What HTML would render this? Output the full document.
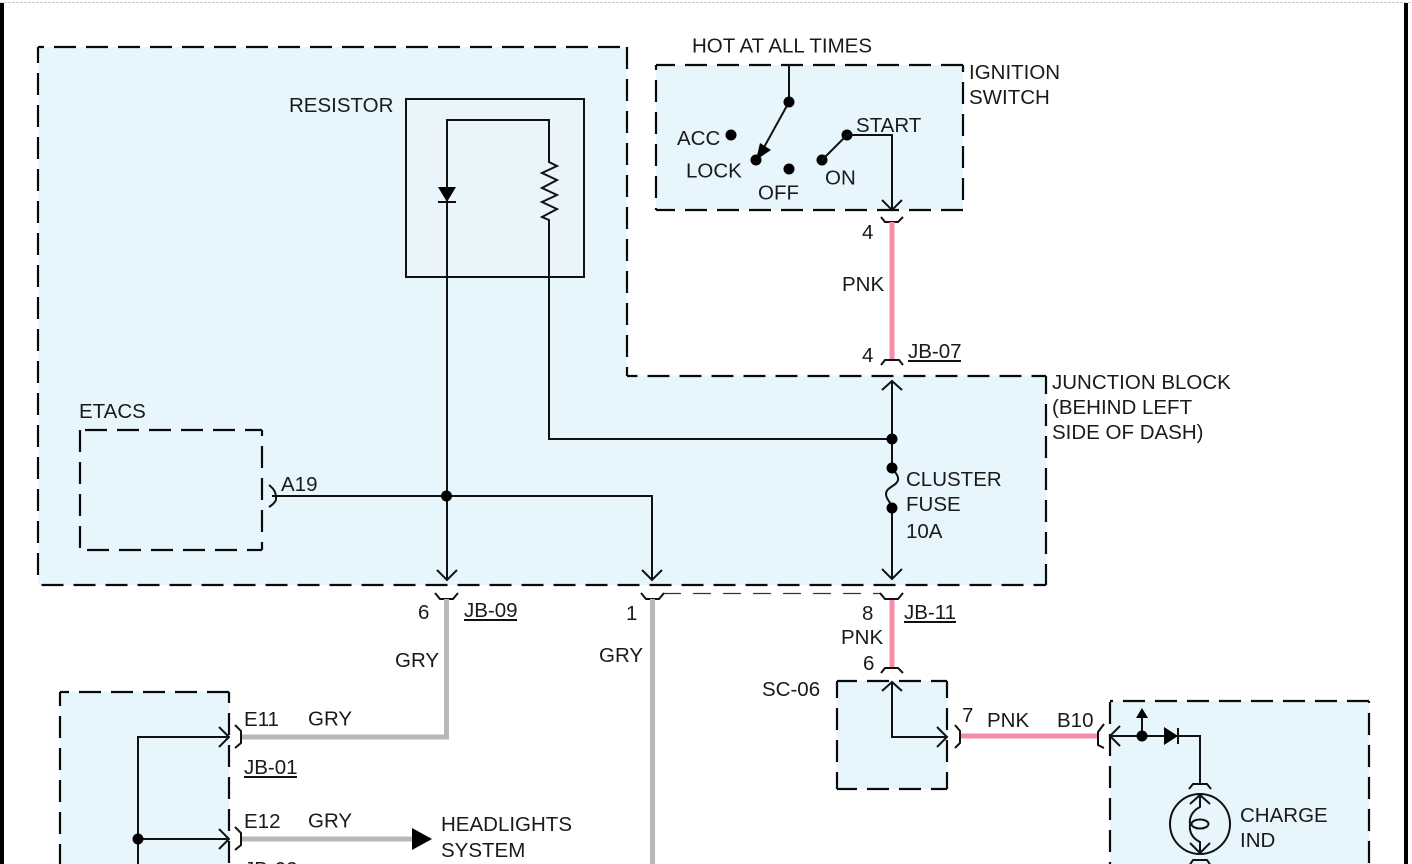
<!DOCTYPE html>
<html><head><meta charset="utf-8"><style>
html,body{margin:0;padding:0;background:#fff;width:1412px;height:864px;overflow:hidden}
svg{display:block}
text{font-family:"Liberation Sans",sans-serif;font-size:20.500px;fill:#1a1a1a}
.f{fill:#e7f6fc}
.e{fill:none;stroke:#0a0a0a;stroke-width:2.200;stroke-dasharray:22 10}
.w{fill:none;stroke:#111;stroke-width:2}
.g{fill:none;stroke:#b8b8b8;stroke-width:5}
.p{fill:none;stroke:#f68ca6;stroke-width:5}
.u{stroke:#111;stroke-width:2}
</style></head><body>
<svg width="1412" height="864" viewBox="0 0 1412 864" xmlns="http://www.w3.org/2000/svg">
<rect width="1412" height="864" fill="#fff"/>
<line x1="0" y1="2.500" x2="1412" y2="2.500" stroke="#ccc" stroke-width="1" stroke-dasharray="3 1"/>
<rect x="0" y="3" width="4" height="861" fill="#000"/>
<rect x="1404" y="3" width="4" height="861" fill="#000"/>

<!-- fills -->
<path class="f" d="M38 47H627V376H1046V585H38Z"/>
<rect class="f" x="656" y="65" width="307" height="145"/>
<rect class="f" x="837" y="681" width="110" height="108"/>
<rect class="f" x="1110" y="701" width="259" height="163"/>
<rect class="f" x="60" y="692" width="169" height="172"/>

<!-- dashed outlines -->
<path class="e" stroke-dashoffset="16" d="M38 47H627"/>
<path class="e" stroke-dashoffset="6" d="M38 47V585"/>
<path class="e" stroke-dashoffset="0" d="M627 47V376"/>
<path class="e" stroke-dashoffset="11.500" d="M627 376H1046"/>
<path class="e" stroke-dashoffset="4" d="M1046 376V585"/>
<path class="e" stroke-dashoffset="28.500" d="M38 585H1046"/>

<path class="e" stroke-dashoffset="27" d="M80 430H262"/>
<path class="e" stroke-dashoffset="25" d="M80 550H262"/>
<path class="e" stroke-dashoffset="0" d="M80 430V550"/>
<path class="e" stroke-dashoffset="16" d="M262 430V550"/>

<rect x="406" y="99" width="178" height="178" fill="#e9f5fb" stroke="#111" stroke-width="2"/>

<path class="e" stroke-dashoffset="3" d="M656 65H963"/>
<path class="e" stroke-dashoffset="3" d="M656 210H963"/>
<path class="e" stroke-dashoffset="17" d="M656 65V210"/>
<path class="e" stroke-dashoffset="15" d="M963 65V210"/>

<path class="e" stroke-dashoffset="2" d="M837 681H947"/>
<path class="e" stroke-dashoffset="2" d="M837 789H947"/>
<path class="e" stroke-dashoffset="5" d="M837 681V789"/>
<path class="e" stroke-dashoffset="5" d="M947 681V789"/>

<path class="e" stroke-dashoffset="19" d="M1110 701H1369"/>
<path class="e" stroke-dashoffset="31" d="M1110 701V864"/>
<path class="e" stroke-dashoffset="20" d="M1369 701V864"/>

<path class="e" stroke-dashoffset="13" d="M60 692H229"/>
<path class="e" stroke-dashoffset="8" d="M60 692V864"/>
<path class="e" stroke-dashoffset="11" d="M229 692V864"/>

<line x1="663" y1="593.500" x2="880" y2="593.500" stroke="#333" stroke-width="1.200" stroke-dasharray="18 12"/>

<!-- resistor block wires -->
<path class="w" d="M447 580V120H549V162L557 166L542 173L557 180L542 188L557 195L542 202L557 209L542 217L549 220V439H892"/>
<path d="M438 187H456L447 202Z" fill="#000"/>
<path class="u" d="M438 202H456"/>
<path class="w" d="M272 496H652V580"/>
<circle cx="446.500" cy="496" r="5.500"/>
<path class="w" d="M437 570L447 580L457 570M642 570L652 580L662 570"/>
<path class="w" d="M269 485Q273 488 275 492L276 496V500Q274 504 269 507"/>

<!-- ignition switch -->
<path class="w" d="M789 65V102L757 160"/>
<path d="M756 160L760 143L771 150Z" fill="#000"/>
<circle cx="789" cy="102" r="5.500"/><circle cx="731" cy="135" r="5.500"/><circle cx="756" cy="160" r="5.500"/>
<circle cx="789" cy="169" r="5.500"/><circle cx="822" cy="160" r="5.500"/><circle cx="847" cy="135" r="5.500"/>
<path class="w" d="M822 160L847 135H892V209M882 200L892 210L902 200"/>
<path class="w" d="M881 217L885 222H898L903 217"/>

<!-- pink wires -->
<path class="p" d="M892 222V360"/>
<path class="p" d="M892 599V668"/>
<path class="p" d="M961 736H1098"/>

<!-- junction block right column -->
<path class="w" d="M881 365L885 360H899L903 365"/>
<path class="w" d="M882 390L892 381L902 390"/>
<path class="w" d="M892 382V468C892 470 899 474 898 480C897 486 886 487 886 494C886 500 892 503 892 508V578"/>
<path class="w" d="M882 569L892 579L902 569"/>
<circle cx="892" cy="439" r="5.500"/><circle cx="892" cy="468" r="5.500"/><circle cx="892" cy="508" r="5.500"/>
<path class="w" d="M880 593L885 599H898L903 593"/>

<!-- grey connectors -->
<path class="w" d="M435 593L440 599H453L458 593"/>
<path class="w" d="M641 593L646 599H659L664 593"/>
<path class="g" d="M446.500 599V737H241"/>
<path class="g" d="M652.500 599V864"/>
<path class="g" d="M241 839H412"/>
<path d="M412 828L432 839L412 850Z" fill="#000"/>

<!-- SC-06 -->
<path class="w" d="M881 673L885 668H898L903 673"/>
<path class="w" d="M892 682V737H947M882 691L892 682L902 691M937 727L947 737L937 747"/>
<path class="w" d="M955 725L960 731V743L955 748"/>

<!-- charge block -->
<path class="w" d="M1104 724L1098 732V745L1104 748"/>
<path class="w" d="M1120 726L1110 736L1120 746M1110 736H1200V783M1142 736V715"/>
<circle cx="1142" cy="736" r="5.500"/>
<path d="M1142 708L1148 718H1136Z" fill="#000"/>
<path d="M1164 727L1178 736L1164 745Z" fill="#000"/>
<path class="u" d="M1178 728V744"/>
<path class="w" d="M1189 789L1193 784H1207L1211 789"/>
<circle cx="1200" cy="824" r="30" fill="none" stroke="#111" stroke-width="2"/>
<path class="w" d="M1190 804L1200 795L1210 804M1190 843L1200 853L1210 843"/>
<path class="w" d="M1200 795V807C1192 811 1189 818 1190 824C1189 832 1192 838 1200 842V853"/>
<ellipse cx="1200" cy="824" rx="8.500" ry="4.500" fill="none" stroke="#111" stroke-width="2"/>
<path class="w" d="M1189 866L1193 860H1207L1211 866"/>

<!-- left module -->
<path class="w" d="M138 864V737H229M219 727L229 737L219 747M138 839H229M219 829L229 839L219 849"/>
<circle cx="138" cy="839" r="5.500"/>
<path class="w" d="M235 725L241 731V743L235 748M235 827L241 833V845L235 850"/>

<!-- underlines -->
<g class="u">
<line x1="908" y1="361" x2="961" y2="361"/>
<line x1="464" y1="620" x2="517" y2="620"/>
<line x1="904" y1="622" x2="956" y2="622"/>
<line x1="244" y1="777" x2="297" y2="777"/>
</g>

<!-- labels -->
<text x="692" y="52.500">HOT AT ALL TIMES</text>
<text x="969" y="79">IGNITION</text>
<text x="969" y="104">SWITCH</text>
<text x="677" y="145">ACC</text>
<text x="686" y="177.500">LOCK</text>
<text x="758" y="199.500">OFF</text>
<text x="825" y="184.500">ON</text>
<text x="856" y="132">START</text>
<text x="862" y="239">4</text>
<text x="842" y="291">PNK</text>
<text x="862" y="362">4</text>
<text x="908" y="358">JB-07</text>
<text x="1052" y="389">JUNCTION BLOCK</text>
<text x="1052" y="414">(BEHIND LEFT</text>
<text x="1052" y="439">SIDE OF DASH)</text>
<text x="906" y="486">CLUSTER</text>
<text x="906" y="511">FUSE</text>
<text x="906" y="538">10A</text>
<text x="289" y="112">RESISTOR</text>
<text x="79" y="418">ETACS</text>
<text x="281" y="491">A19</text>
<text x="418" y="619">6</text>
<text x="464" y="617">JB-09</text>
<text x="626" y="620">1</text>
<text x="599" y="662">GRY</text>
<text x="395" y="667">GRY</text>
<text x="862" y="620">8</text>
<text x="904" y="619">JB-11</text>
<text x="841" y="644">PNK</text>
<text x="863" y="670">6</text>
<text x="762" y="696">SC-06</text>
<text x="962" y="722">7</text>
<text x="987" y="727">PNK</text>
<text x="1057" y="727">B10</text>
<text x="244" y="726">E11</text>
<text x="308" y="725.500">GRY</text>
<text x="244" y="774">JB-01</text>
<text x="244" y="828">E12</text>
<text x="308" y="827.500">GRY</text>
<text x="441" y="831">HEADLIGHTS</text>
<text x="441" y="857">SYSTEM</text>
<text x="244" y="876">JB-02</text>
<text x="1240" y="822">CHARGE</text>
<text x="1240" y="847">IND</text>
</svg>
</body></html>
